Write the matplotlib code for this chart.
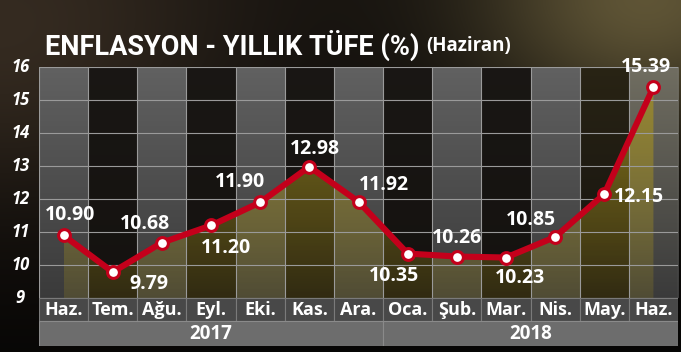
import numpy as np
import matplotlib
matplotlib.use("Agg")
import matplotlib.pyplot as plt
from matplotlib.patches import Rectangle

plt.rcParams['font.family'] = ['Open Sans', 'DejaVu Sans']

# data
months = ["Haz.", "Tem.", "Ağu.", "Eyl.", "Eki.", "Kas.", "Ara.",
          "Oca.", "Şub.", "Mar.", "Nis.", "May.", "Haz."]
values = [10.90, 9.79, 10.68, 11.20, 11.90, 12.98, 11.92,
          10.35, 10.26, 10.23, 10.85, 12.15, 15.39]
years = ["2017", "2018"]
year_spans = [(0, 7), (7, 13)]   # column index ranges per year
yticks = [9, 10, 11, 12, 13, 14, 15, 16]

# label offsets in pixels (dx, dy) relative to each point
label_offsets = [(6, 20), (36, -12), (-17, 19), (15, -23), (-20, 20), (6, 18), (25, 17),
                 (-14, -22), (0, 19), (14, -20), (-24, 17), (35, -3), (-7, 20)]

W, H = 681, 352
fig = plt.figure(figsize=(W / 100, H / 100), dpi=100)

# background glow
bg = fig.add_axes([0, 0, 1, 1])
bg.set_axis_off()
yy, xx = np.mgrid[0:1:200j, 0:1:400j]
base = np.zeros((200, 400, 3))
warm = np.exp(-(((xx - 0.95) / 0.25) ** 2 + ((yy - 0.0) / 0.35) ** 2))
left = np.exp(-(((xx - 0.0) / 0.35) ** 2 + ((yy - 0.1) / 0.5) ** 2))
fade = 1 - 0.6 * yy
base[..., 0] = 0.07 * fade + 0.30 * warm + 0.14 * left
base[..., 1] = 0.06 * fade + 0.27 * warm + 0.11 * left
base[..., 2] = 0.05 * fade + 0.16 * warm + 0.08 * left
bg.imshow(np.clip(base, 0, 1), extent=[0, 1, 0, 1], aspect='auto', origin='upper')
bg.set_xlim(0, 1)
bg.set_ylim(0, 1)

# main axes: y from 7.55 (bottom of year row) to 16
y_bot = 7.55
ax = fig.add_axes([39 / W, 1 - 346 / H, (678 - 39) / W, (346 - 67) / H])
ax.set_xlim(-0.5, len(months) - 0.5)
ax.set_ylim(y_bot, 16)
ax.set_axis_off()

# shaded columns with vertical gradient
grad = np.linspace(1, 0, 100).reshape(-1, 1)
for i in range(len(months)):
    if i % 2 == 0:
        top, bot = np.array([0.38, 0.38, 0.38]), np.array([0.23, 0.23, 0.23])
    else:
        top, bot = np.array([0.10, 0.09, 0.08]), np.array([0.08, 0.07, 0.06])
    if i >= 11:
        top = top + np.array([0.06, 0.05, 0.0])
    img = bot + (top - bot) * grad[..., None]
    ax.imshow(img, extent=[i - 0.5, i + 0.5, 9, 16], aspect='auto',
              origin='upper', zorder=0)

# yellow fill under the line
x = np.arange(len(values))
fill = ax.fill_between(x, values, 9, color='none', zorder=1)
yg = np.linspace(1, 0, 200).reshape(-1, 1)
rgba = np.zeros((200, 1, 4))
rgba[..., 0] = 0.66
rgba[..., 1] = 0.58
rgba[..., 2] = 0.12
rgba[..., 3] = 0.2 + 0.55 * yg
fimg = ax.imshow(rgba, extent=[0, len(values) - 1, 9, 16], aspect='auto',
                 origin='upper', zorder=1)
fimg.set_clip_path(fill.get_paths()[0], transform=ax.transData)

# grid
for i in range(len(months) + 1):
    ax.plot([i - 0.5, i - 0.5], [9, 16], color='#9a9a9a', lw=0.8, zorder=2)
for v in yticks:
    ax.plot([-0.5, len(months) - 0.5], [v, v], color='#9a9a9a', lw=0.8, zorder=2)

# month and year rows
row_mid = 9 - 23 / 33
for i, m in enumerate(months):
    ax.add_patch(Rectangle((i - 0.5, row_mid), 1, 9 - row_mid, facecolor='#484848',
                           edgecolor='#7a7a7a', lw=0.8, zorder=2))
    ax.text(i, (9 + row_mid) / 2, m, color='white', fontsize=13, fontweight='bold',
            ha='center', va='center', zorder=3)
for yr, (a, b) in zip(years, year_spans):
    ax.add_patch(Rectangle((a - 0.5, y_bot), b - a, row_mid - y_bot, facecolor='#6d6d6d',
                           edgecolor='#8a8a8a', lw=0.8, zorder=2))
    ax.text((a + b - 1) / 2, (row_mid + y_bot) / 2, yr, color='white', fontsize=13.5,
            fontweight='bold', ha='center', va='center', zorder=3)

# y tick labels
for v in yticks:
    ax.text(-0.88, v, str(v), color='white', fontsize=12, fontweight='bold',
            style='italic', ha='center', va='center')

# line and markers
ax.plot(x, values, color='#c4001b', lw=4.4, zorder=4, solid_joinstyle='round')
ax.plot(x, values, 'o', markersize=8.5, markerfacecolor='white', markeredgecolor='#c4001b',
        markeredgewidth=2.2, zorder=5)

for xi, v, (dx, dy) in zip(x, values, label_offsets):
    ax.annotate(f"{v:.2f}", (xi, v), xytext=(dx, dy), textcoords='offset pixels',
                color='white', fontsize=14, fontweight='bold', ha='center', va='center',
                zorder=6)

# title
title = fig.text(45 / W, 1 - 45 / H, "ENFLASYON - YILLIK TÜFE (%)", color='white',
                 fontsize=19.5, fontweight='bold', family=['Roboto', 'DejaVu Sans'],
                 ha='left', va='center')
fig.canvas.draw()
tb = title.get_window_extent()
fig.text((tb.x1 + 7) / W, 1 - 46 / H, "(Haziran)", color='white', fontsize=13.5,
         fontweight='bold', ha='left', va='center')

fig.savefig("out.png", dpi=100)
